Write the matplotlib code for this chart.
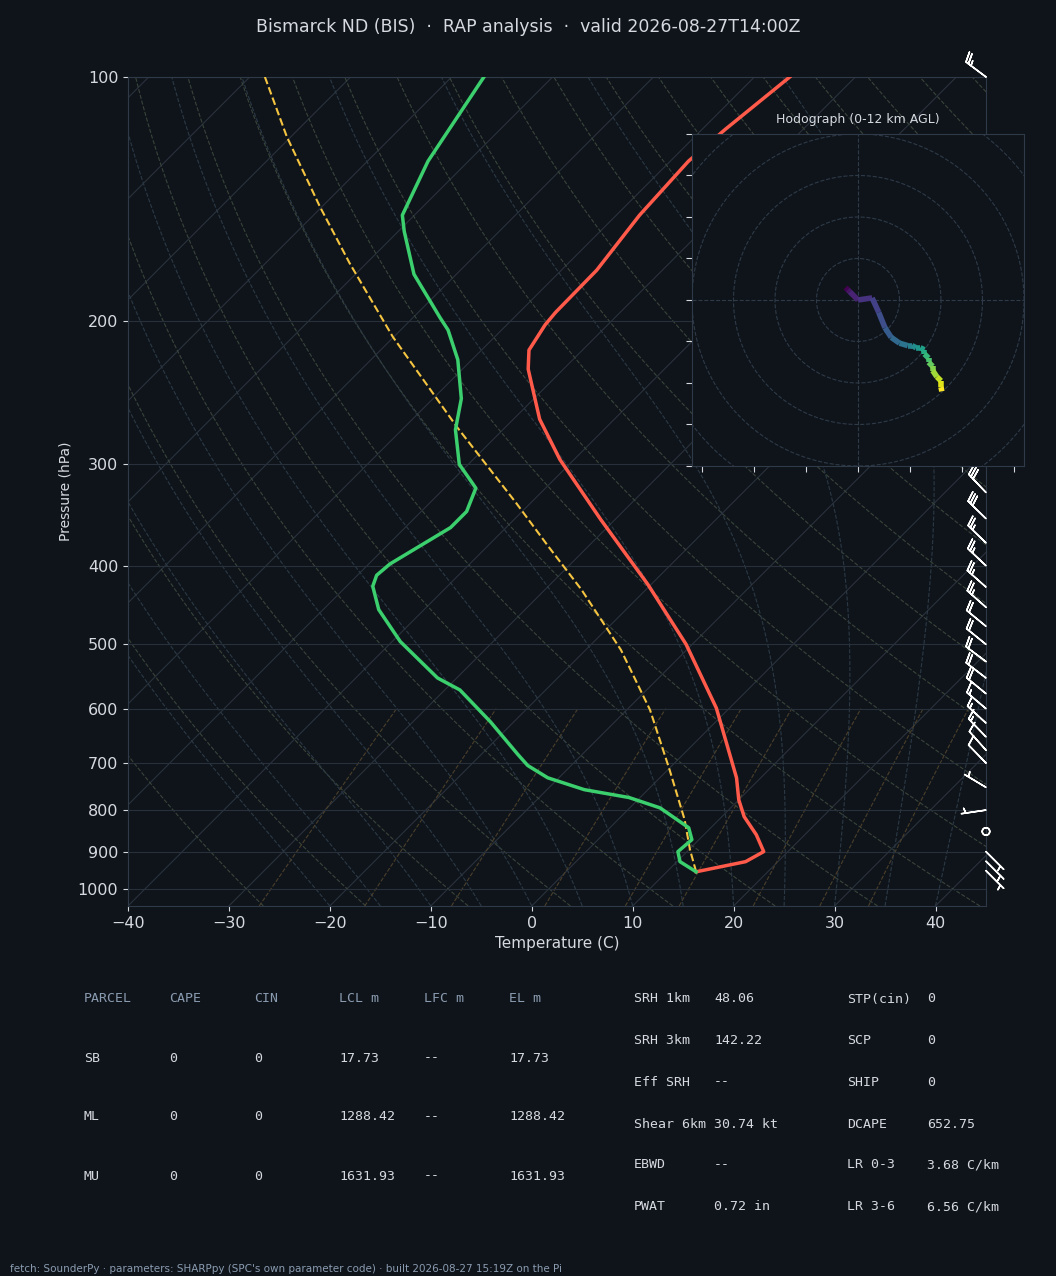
import numpy as np
import matplotlib
matplotlib.use("Agg")
import matplotlib.pyplot as plt
from matplotlib.collections import LineCollection

# profile (hPa, deg C)
p_temp = [953, 926, 900, 858, 815, 777, 730, 599, 500, 422, 351, 296, 264, 229, 217, 202, 195, 173, 148, 127, 116, 100]
t_temp = [12.9, 16.8, 17.6, 15.2, 12.2, 10.0, 7.6, -1.3, -10.6, -20.3, -31.4, -41.4, -47.4, -53.5, -55.3, -56.2, -56.4, -56.5, -57.7, -58.2, -57.7, -56.5]

p_dew = [953, 926, 900, 870, 841, 795, 772, 755, 730, 705, 684, 623, 569, 550, 496, 453, 424, 411, 398, 359, 343, 321, 300, 272, 249, 223, 205, 198, 175, 155, 148, 127, 100]
t_dew = [12.9, 10.3, 9.1, 9.3, 7.8, 3.0, -1.1, -6.3, -11.1, -14.3, -16.3, -22.3, -28.5, -31.9, -39.2, -44.5, -47.4, -48.1, -47.9, -45.5, -45.5, -46.9, -50.9, -54.7, -57.2, -61.4, -65.3, -67.3, -74.2, -79.4, -81.2, -84.0, -86.8]

p_parcel = [953, 895, 822, 714, 602, 508, 428, 379, 335, 270, 209, 169.5, 144.5, 118.5, 100]
t_parcel = [12.9, 10.1, 6.6, 0.2, -7.7, -16.5, -26.4, -33.9, -41.4, -54.8, -70.1, -81.7, -90.2, -100.4, -108.5]

# winds (kt)
p_wind = [950, 925, 900, 850, 800, 750, 700, 675, 650, 625, 600, 575, 550, 525, 500, 475, 450, 425, 400,
          375, 350, 325, 300, 250, 200, 150, 100]
u_wind = [-3, -2.5, -2, 0, 3.4, 5, 6.5, 8, 10, 12, 13, 14, 15, 16, 16, 17, 17, 18, 18,
          19, 20, 20, 20.2, 22, 22, 22, 20]
v_wind = [3, 2.5, 2, 0, 0.5, -3, -6.7, -9, -10.4, -11, -11, -11.5, -11.5, -12, -13, -14, -15, -16, -17,
          -18.5, -19.5, -21, -22, -22, -22, -18, -15]
hodo_levels = 23  # 0-12 km portion

parcels = ["SB", "ML", "MU"]
cape = ["0", "0", "0"]
cin = ["0", "0", "0"]
lcl = ["17.73", "1288.42", "1631.93"]
lfc = ["--", "--", "--"]
el = ["17.73", "1288.42", "1631.93"]
mid_names = ["SRH 1km", "SRH 3km", "Eff SRH", "Shear 6km", "EBWD", "PWAT"]
mid_vals = ["48.06", "142.22", "--", "30.74 kt", "--", "0.72 in"]
right_names = ["STP(cin)", "SCP", "SHIP", "DCAPE", "LR 0-3", "LR 3-6"]
right_vals = ["0", "0", "0", "652.75", "3.68 C/km", "6.56 C/km"]

BG = "#0f141a"
FG = "#d6dae0"
EDGE = "#2e3a48"
P0 = 1050.0
SKEW = 34.9


def sx(t, p):
    return np.asarray(t) + SKEW * np.log(P0 / np.asarray(p, dtype=float))


fig = plt.figure(figsize=(10.56, 12.76), dpi=100, facecolor=BG)
ax = fig.add_axes([0.1212, 0.29, 0.8125, 0.6497], facecolor=BG)
ax.set_yscale("log")
ax.set_ylim(1050, 100)
ax.set_xlim(-40, 45)

pp = np.logspace(np.log10(1050), 2, 200)
# isotherms
for t0 in range(-160, 60, 10):
    ax.plot(sx(np.full_like(pp, t0), pp), pp, color="#2a323d", lw=0.8, zorder=1)
# dry adiabats
for th in range(-30, 240, 10):
    tk = (th + 273.15) * (pp / 1000.0) ** 0.2857 - 273.15
    ax.plot(sx(tk, pp), pp, color="#39443a", lw=0.8, ls="--", zorder=1)


# moist adiabats (simple integration)
def moist_lapse(t0, ps):
    out = [t0]
    t = t0 + 273.15
    for i in range(1, len(ps)):
        p = ps[i - 1]
        es = 6.112 * np.exp(17.67 * (t - 273.15) / (t - 29.65))
        rs = 0.622 * es / (p - es)
        num = 287.0 * t + 2.5e6 * rs
        den = 1004.0 + 2.5e6 ** 2 * rs * 0.622 / (287.0 * t * t)
        t = t + num / den / p * (ps[i] - p)
        out.append(t - 273.15)
    return np.array(out)


pm = np.logspace(np.log10(1050), np.log10(100), 200)
for t0 in range(-20, 45, 5):
    ax.plot(sx(moist_lapse(t0, pm), pm), pm, color="#2b3945", lw=0.8, ls="--", zorder=1)
# mixing ratio lines
pw = np.linspace(1050, 600, 50)
for w in [0.4, 1, 2, 4, 7, 10, 16, 24, 32]:
    e = pw * w / 1000.0 / (0.622 + w / 1000.0)
    td = 243.5 * np.log(e / 6.112) / (17.67 - np.log(e / 6.112))
    ax.plot(sx(td, pw), pw, color="#4a3f2a", lw=0.8, ls="--", zorder=1)

ticks = [100, 200, 300, 400, 500, 600, 700, 800, 900, 1000]
for p in ticks:
    ax.axhline(p, color="#27303b", lw=0.8, zorder=1)
ax.set_yticks(ticks)
ax.set_yticklabels([str(p) for p in ticks])
ax.minorticks_off()
ax.set_xticks(range(-40, 50, 10))
ax.set_xticklabels(["\u2212" + str(-t) if t < 0 else str(t) for t in range(-40, 50, 10)])

ax.plot(sx(t_parcel, p_parcel), p_parcel, color="#f5c542", lw=1.5, ls="--", zorder=3)
ax.plot(sx(t_temp, p_temp), p_temp, color="#ff5a4a", lw=2.5, zorder=4)
ax.plot(sx(t_dew, p_dew), p_dew, color="#3ccf6e", lw=2.5, zorder=4)

ax.barbs(np.full(len(p_wind), 45.0), p_wind, u_wind, v_wind, color="white",
         length=6, lw=1.1, clip_on=False, zorder=5)

ax.set_xlabel("Temperature (C)", color=FG, fontsize=11)
ax.set_ylabel("Pressure (hPa)", color=FG, fontsize=10)
ax.tick_params(colors=FG, labelsize=11.5)
for s in ax.spines.values():
    s.set_color(EDGE)

fig.text(0.5, 0.979, "Bismarck ND (BIS)  \u00b7  RAP analysis  \u00b7  valid 2026-08-27T14:00Z",
         ha="center", va="center", color=FG, fontsize=12.5)

# hodograph
hx = fig.add_axes([0.6553, 0.6348, 0.3144, 0.2602], facecolor=BG)
hx.set_xlim(-40, 40)
hx.set_ylim(-40, 40)
th = np.linspace(0, 2 * np.pi, 200)
for r in [10, 20, 30, 40, 50]:
    hx.plot(r * np.cos(th), r * np.sin(th), color="#2e3a48", lw=0.8, ls="--")
hx.axhline(0, color="#2e3a48", lw=0.8, ls="--")
hx.axvline(0, color="#2e3a48", lw=0.8, ls="--")
hu = np.array(u_wind[:hodo_levels])
hv = np.array(v_wind[:hodo_levels])
pts = np.column_stack([hu, hv]).reshape(-1, 1, 2)
segs = np.concatenate([pts[:-1], pts[1:]], axis=1)
lc = LineCollection(segs, cmap="viridis", linewidths=4)
lc.set_array(np.arange(len(segs)))
hx.add_collection(lc)
hx.set_xticks(np.arange(-37.5, 41, 12.5))
hx.set_yticks(np.arange(-40, 41, 10))
hx.set_xticklabels([])
hx.set_yticklabels([])
hx.tick_params(colors=FG, length=4)
for s in hx.spines.values():
    s.set_color(EDGE)
hx.set_title("Hodograph (0-12 km AGL)", color=FG, fontsize=9, pad=8)

# parameter table
HEAD = "#8a9bb0"
cols = [84, 169, 254, 339, 424, 509]
heads = ["PARCEL", "CAPE", "CIN", "LCL m", "LFC m", "EL m"]
for x, h in zip(cols, heads):
    fig.text(x / 1056, 1 - 999 / 1276, h, color=HEAD, family="DejaVu Sans Mono", fontsize=9.5, va="center")
for i, name in enumerate(parcels):
    y = 1 - (1058 + 59 * i) / 1276
    for x, v in zip(cols, [name, cape[i], cin[i], lcl[i], lfc[i], el[i]]):
        fig.text(x / 1056, y, v, color=FG, family="DejaVu Sans Mono", fontsize=9.5, va="center")
rows = [999, 1041, 1082, 1124, 1165, 1207]
for i, y in enumerate(rows):
    yy = 1 - y / 1276
    fig.text(634 / 1056, yy, mid_names[i], color=FG, family="DejaVu Sans Mono", fontsize=9.5, va="center")
    fig.text(714 / 1056, yy, mid_vals[i], color=FG, family="DejaVu Sans Mono", fontsize=9.5, va="center")
    fig.text(847 / 1056, yy, right_names[i], color=FG, family="DejaVu Sans Mono", fontsize=9.5, va="center")
    fig.text(927 / 1056, yy, right_vals[i], color=FG, family="DejaVu Sans Mono", fontsize=9.5, va="center")

fig.text(10 / 1056, 1 - 1269 / 1276,
         "fetch: SounderPy \u00b7 parameters: SHARPpy (SPC's own parameter code) \u00b7 built 2026-08-27 15:19Z on the Pi",
         color=HEAD, fontsize=7.5, va="center")

fig.savefig("out.png", dpi=100, facecolor=BG)
